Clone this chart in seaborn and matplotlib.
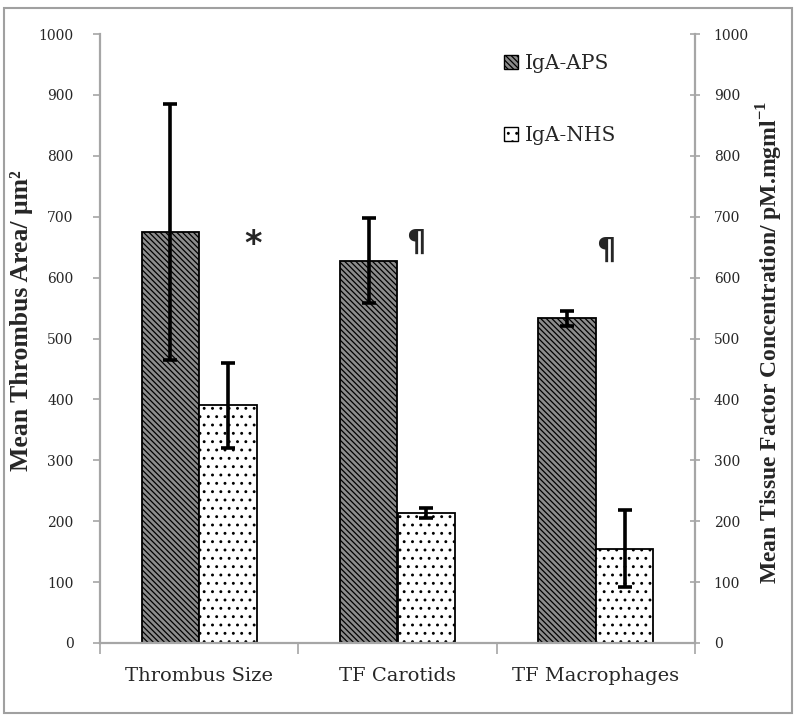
import matplotlib
matplotlib.use("Agg")
import matplotlib.pyplot as plt
import matplotlib.patches as mpatches
import seaborn as sns
import pandas as pd
import numpy as np

categories = ["Thrombus Size", "TF Carotids", "TF Macrophages"]
groups = ["IgA-APS", "IgA-NHS"]
aps_values = [675, 628, 533]
nhs_values = [390, 213, 155]
aps_errors = [210, 70, 12]
nhs_errors = [70, 8, 63]
y_ticks = [0, 100, 200, 300, 400, 500, 600, 700, 800, 900, 1000]
annotations = ["*", "\u00b6", "\u00b6"]
annotation_y = [655, 658, 645]

df = pd.DataFrame({
    "category": categories * 2,
    "group": [groups[0]] * 3 + [groups[1]] * 3,
    "value": aps_values + nhs_values,
})

sns.set_theme(style="white")
plt.rcParams["font.family"] = ["DejaVu Serif"]
plt.rcParams["hatch.linewidth"] = 0.9
plt.rcParams["mathtext.fontset"] = "custom"
plt.rcParams["mathtext.rm"] = "Liberation Serif"
plt.rcParams["mathtext.bf"] = "Liberation Serif:bold"

fig = plt.figure(figsize=(8, 7.2), dpi=100)
ax = fig.add_axes([100 / 800, 1 - 643 / 720, 595 / 800, 609 / 720])

aps_face = "#8c8c8c"
aps_hatch = "\\\\\\\\\\\\"
nhs_hatch = ".."

sns.barplot(data=df, x="category", y="value", hue="group", order=categories,
            hue_order=groups, palette=[aps_face, "white"], width=0.58,
            gap=0, errorbar=None, ax=ax, legend=False)

hatches = [aps_hatch, nhs_hatch]
for container, h, vals, errs in zip(ax.containers, hatches,
                                    [aps_values, nhs_values],
                                    [aps_errors, nhs_errors]):
    xs = []
    for bar in container:
        bar.set_hatch(h)
        bar.set_edgecolor("black")
        bar.set_linewidth(1.3)
        xs.append(bar.get_x() + bar.get_width() / 2)
    ax.errorbar(xs, vals, yerr=errs, fmt="none", ecolor="black",
                elinewidth=2.6, capsize=4.8, capthick=2.6, zorder=5)

ax.set_xlim(-0.5, 2.5)
ax.set_ylim(0, 1000)
ax.set_yticks(y_ticks)
ax.set_xlabel("")
ax.set_ylabel("Mean Thrombus Area/ \u03bcm\u00b2", fontsize=18.5, fontweight="bold",
              family=["Liberation Serif", "DejaVu Serif"])
ax.yaxis.set_label_coords(-0.112, 0.53)

gray = "#a6a6a6"
for s in ["top", "right"]:
    ax.spines[s].set_visible(False)
for s in ["left", "bottom"]:
    ax.spines[s].set_color(gray)
    ax.spines[s].set_linewidth(1.6)

ax.tick_params(axis="y", direction="out", length=5, width=1.2, color=gray,
               labelsize=10, pad=14, left=True)
ax.tick_params(axis="x", which="major", length=0, labelsize=14, pad=17)
ax.set_xticks([-0.5, 0.5, 1.5, 2.5], minor=True)
ax.tick_params(axis="x", which="minor", direction="out", length=8, width=1.2,
               color=gray, bottom=True)

ax2 = ax.twinx()
ax2.set_ylim(0, 1000)
ax2.set_yticks(y_ticks)
for s in ["top", "left", "bottom"]:
    ax2.spines[s].set_visible(False)
ax2.spines["right"].set_color(gray)
ax2.spines["right"].set_linewidth(1.6)
ax2.tick_params(axis="y", direction="inout", length=7, width=1.2, color=gray,
                labelsize=10, pad=10, right=True)
ax2.set_ylabel("Mean Tissue Factor Concentration/ pM.mgml$^{\\mathbf{-1}}$", fontsize=17,
               fontweight="bold", family=["Liberation Serif", "DejaVu Serif"])
ax2.yaxis.set_label_coords(1.10, 0.494)

for i, (t, yv) in enumerate(zip(annotations, annotation_y)):
    xoff = 0.27 if t == "*" else 0.09 + (0.0 if i == 1 else -0.04)
    ax.text(i + xoff, yv, t, ha="center", va="center",
            fontsize=24 if t == "*" else 22, fontweight="bold",
            family=["DejaVu Sans"], zorder=6)

handles = [mpatches.Patch(facecolor=aps_face, edgecolor="black", hatch=aps_hatch, label=groups[0]),
           mpatches.Patch(facecolor="white", edgecolor="black", hatch=nhs_hatch, label=groups[1])]
fig.legend(handles=handles, loc="upper left", bbox_to_anchor=(486 / 800, 1 - 36 / 720),
           frameon=False, handlelength=0.7, handleheight=0.7,
           handletextpad=0.35, labelspacing=2.65, prop={"family": "DejaVu Serif", "size": 14.5})

fig.patches.append(mpatches.Rectangle((4 / 800, 1 - 713 / 720), 788 / 800, 705 / 720,
                                      transform=fig.transFigure, fill=False,
                                      edgecolor="#a0a0a0", linewidth=1.5))

fig.savefig("out.png", dpi=100)
